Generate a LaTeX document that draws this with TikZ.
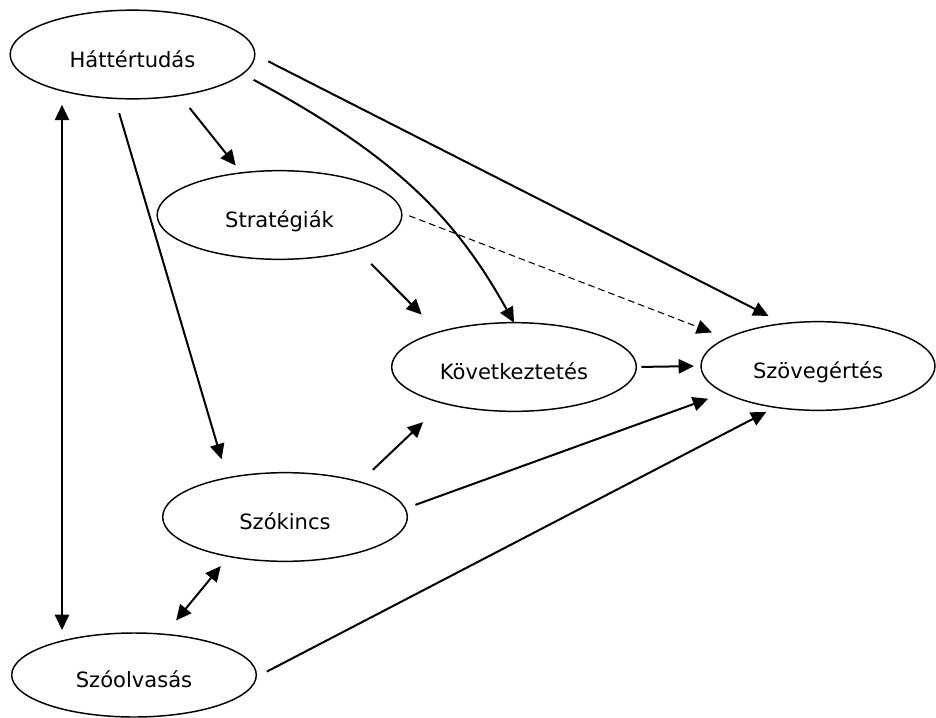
\documentclass[tikz,border=0pt]{standalone}
\usepackage{fontspec}
\setmainfont{DejaVu Sans}
\usetikzlibrary{arrows.meta,shapes.geometric,calc}

\tikzset{every picture/.style={line width=0.9pt}}
\tikzset{
  ell/.style={draw, ellipse, line width=1.1pt, minimum width=183.5pt, minimum height=66.5pt,
    inner sep=0pt, outer sep=0pt, text height=19pt, text depth=0pt,
    font=\fontsize{15.8}{19}\selectfont},
  arr/.style={line width=1.5pt, -{Triangle[length=11.5pt,width=10.7pt]}},
  dblarr/.style={line width=1.5pt, {Triangle[length=11.5pt,width=10.7pt]}-{Triangle[length=11.5pt,width=10.7pt]}},
  dasharr/.style={line width=0.8pt, dash pattern=on 5pt off 3pt, -{Triangle[length=11.5pt,width=10.7pt]}}
}

\begin{document}
\begin{tikzpicture}[x=0.75pt,y=0.75pt,yscale=-1,xscale=1]
\useasboundingbox (0,0) rectangle (936,718); %set diagram size 936 x 718

%Shape: Ellipse [hat]
\node[ell] (hat) at (132.5,54.5) {Háttértudás};
%Shape: Ellipse [strat]
\node[ell] (strat) at (279.5,215) {Stratégiák};
%Shape: Ellipse [kov]
\node[ell] (kov) at (514,367) {Következtetés};
%Shape: Ellipse [szov]
\node[ell, minimum width=175.5pt] (szov) at (818,366) {Szövegértés};
%Shape: Ellipse [szok]
\node[ell] (szok) at (285,517) {Szókincs};
%Shape: Ellipse [szoo]
\node[ell, minimum height=63pt] (szoo) at (134,675) {Szóolvasás};

%Straight Lines [hat -> szov]
\draw[arr, shorten <=11.25pt, shorten >=12.75pt] (hat.0) -- (szov.129);
%Curve Lines [hat -> kov]
\draw[arr, shorten <=9.5pt] (hat.-10.5) .. controls (400,158) and (458,222) .. (kov.90);
%Straight Lines [hat -> strat]
\draw[arr, shorten <=12pt, shorten >=7pt] (hat.-41) -- (strat.132);
%Straight Lines [hat -> szok]
\draw[arr, shorten <=11.6pt, shorten >=14.6pt] (hat.-112) -- (szok.146);
%Straight Lines [hat <-> szoo]
\draw[dblarr, shorten <=4.5pt, shorten >=2.25pt] ($(hat.south)+(-70.5,0)$) -- ($(szoo.north)+(-72,0)$);
%Dashed Lines [strat -> szov]
\draw[dasharr, shorten <=6pt, shorten >=12pt] (strat.1) -- (szov.163);
%Straight Lines [strat -> kov]
\draw[arr, shorten <=15.4pt, shorten >=18.4pt] (strat.-24.5) -- (kov.155);
%Straight Lines [kov -> szov]
\draw[arr, shorten <=3.75pt, shorten >=5.25pt] (kov.0) -- (szov.180);
%Straight Lines [szok -> kov]
\draw[arr, shorten <=13.3pt, shorten >=20.7pt] (szok.25.8) -- (kov.-153);
%Straight Lines [szok -> szov]
\draw[arr, shorten <=8.25pt, shorten >=13.2pt] (szok.4) -- (szov.-164);
%Straight Lines [szok <-> szoo]
\draw[dblarr, shorten <=9.4pt, shorten >=13.5pt] (szok.-145.5) -- (szoo.53);
%Straight Lines [szoo -> szov]
\draw[arr, shorten <=9pt, shorten >=7.5pt] (szoo.-1) -- (szov.-136);

\end{tikzpicture}
\end{document}
